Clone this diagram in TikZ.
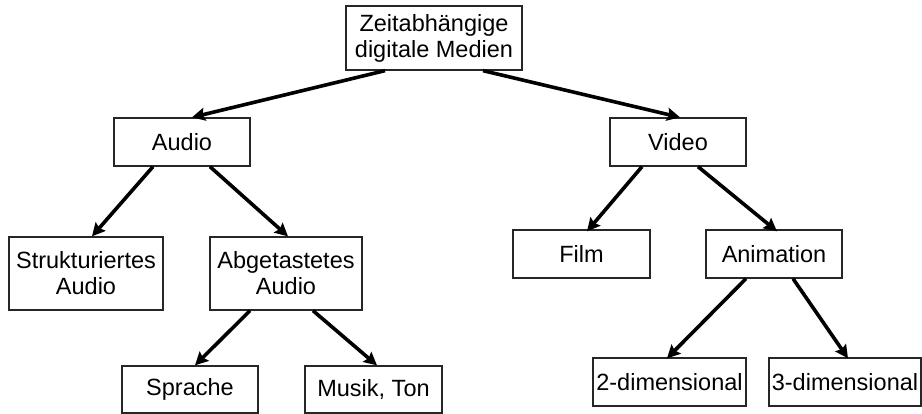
\documentclass[tikz,border=0pt]{standalone}
\usepackage{fontspec}
\setmainfont{Liberation Sans}
\usetikzlibrary{arrows.meta}
\begin{document}
\begin{tikzpicture}[x=1pt,y=-1pt,
  box/.style={draw=black!85,line width=1.3pt,fill=white,rectangle,inner sep=0pt,align=center,
    font=\fontsize{23.5}{26}\selectfont},
  conn/.style={line width=3.6pt,-{Stealth[length=13pt,width=13pt,inset=2pt]}}]
\path[use as bounding box] (0,0) rectangle (922,414);
\node[box,minimum width=176pt,minimum height=64pt] (top) at (434,38) {Zeitabhängige\\digitale Medien};
\node[box,minimum width=136pt,minimum height=48pt] (audio) at (182,142) {Audio};
\node[box,minimum width=136pt,minimum height=48pt] (video) at (678,142) {Video};
\node[box,minimum width=154pt,minimum height=73pt] (strukt) at (86,273.5) {Strukturiertes\\Audio};
\node[box,minimum width=152pt,minimum height=73pt] (abget) at (286,273.5) {Abgetastetes\\Audio};
\node[box,minimum width=136pt,minimum height=47pt] (sprache) at (190,389.5) {Sprache};
\node[box,minimum width=137pt,minimum height=47pt] (musik) at (373.5,389.5) {Musik, Ton};
\node[box,minimum width=137pt,minimum height=48pt] (film) at (581.5,254) {Film};
\node[box,minimum width=136pt,minimum height=48pt] (anim) at (774,254) {Animation};
\node[box,minimum width=153pt,minimum height=48pt] (dimb) at (669.5,382) {2-dimensional};
\node[box,minimum width=152pt,minimum height=48pt] (dimc) at (845,382) {3-dimensional};
\draw[conn] ([xshift=-49pt]top.south) -- ([xshift=10pt]audio.north);
\draw[conn] ([xshift=49pt]top.south) -- ([xshift=2pt]video.north);
\draw[conn] ([xshift=-29pt]audio.south) -- ([xshift=6pt]strukt.north);
\draw[conn] ([xshift=28pt]audio.south) -- ([xshift=2pt]abget.north);
\draw[conn] ([xshift=-36pt]abget.south) -- ([xshift=5pt]sprache.north);
\draw[conn] ([xshift=27pt]abget.south) -- ([xshift=3.5pt]musik.north);
\draw[conn] ([xshift=-36pt]video.south) -- ([xshift=5.5pt,yshift=-2pt]film.north);
\draw[conn] ([xshift=20pt]video.south) -- ([xshift=3pt,yshift=-2pt]anim.north);
\draw[conn] ([xshift=-28pt]anim.south) -- ([xshift=-2.5pt,yshift=-1pt]dimb.north);
\draw[conn] ([xshift=19pt]anim.south) -- ([xshift=3pt,yshift=-1pt]dimc.north);
\end{tikzpicture}
\end{document}
